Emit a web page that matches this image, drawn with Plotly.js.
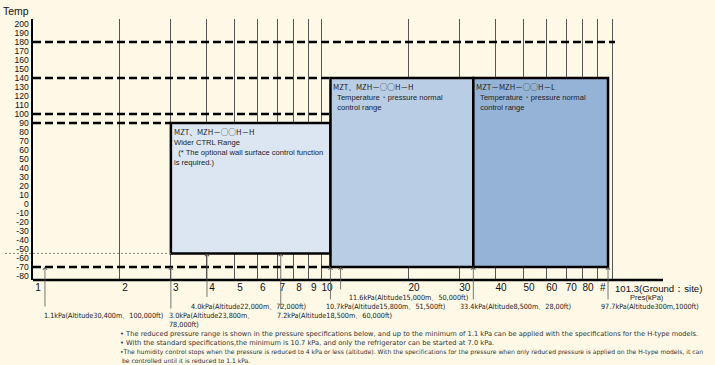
<!DOCTYPE html>
<html>
<head>
<meta charset="utf-8">
<script src="https://cdn.plot.ly/plotly-3.0.1.min.js"></script>
<style>html,body{margin:0;padding:0;background:#fef8e6;}</style>
</head>
<body>
<div id="chart" style="width:715px;height:365px;"></div>
<script>
// ---- data ----
const pressureTicks = [1,2,3,4,5,6,7,8,9,10,20,30,40,50,60,70,80,90,101.3];
const pressureTickLabels = ['1','2','3','4','5','6','7','8','9','10','20','30','40','50','60','70','80','#',''];
const groundLabel = '101.3(Ground：site)';
const tempTicks = [200,190,180,170,160,150,140,130,120,110,100,90,80,70,60,50,40,30,20,10,0,-10,-20,-30,-40,-50,-60,-70,-80];

const boxTitles = ['MZT、MZH－○○H－H', 'MZT、MZH－○○H－H', 'MZT－MZH－○○H－L'];
const boxBodies = ['Wider CTRL Range<br>  (* The optional wall surface control function<br>is required.)',
                   '  Temperature・pressure normal<br>  control range',
                   '  Temperature・pressure normal<br>  control range'];
const boxPMin = [3, 10.7, 33.4];
const boxPMax = [10.7, 33.4, 97.7];
const boxTMin = [-55, -70, -70];
const boxTMax = [90, 140, 140];
const boxColors = ['#dce6f2', '#b9cde5', '#95b3d7'];

const limitTemps = [180, 140, 100, 90, -70];
const limitPEnd = [null, 10.7, 10.7, 3, 10.7];
const refTemp = -55;
const refPEnd = 3;

const arrowP = [1.1, 3.0, 4.0, 7.2, 10.7, 11.6, 33.4, 97.7];
const arrowT = [-70, -70, -55, -55, -70, -70, -70, -70];
const arrowLabels = ['1.1kPa(Altitude30,400m、100,000ft)',
  '3.0kPa(Altitude23,800m、<br>78,000ft)',
  '4.0kPa(Altitude22,000m、72,000ft)',
  '7.2kPa(Altitude18,500m、60,000ft)',
  '10.7kPa(Altitude15,800m、51,500ft)',
  '11.6kPa(Altitude15,000m、50,000ft)',
  '33.4kPa(Altitude8,500m、28,00ft)',
  '97.7kPa(Altitude300m,1000ft)'];
const notes = ['• The reduced pressure range is shown in the pressure specifications below, and up to the minimum of 1.1 kPa can be applied with the specifications for the H-type models.',
  '• With the standard specifications,the minimum is 10.7 kPa, and only the refrigerator can be started at 7.0 kPa.',
  '•The humidity control stops when the pressure is reduced to 4 kPa or less (altitude). With the specifications for the pressure when only reduced pressure is applied on the H-type models, it can',
  'be controlled until it is reduced to 1.1 kPa.'];

// ---- layout geometry ----
const W = 715, H = 365;
const M = {l: 33, r: 100, t: 19, b: 85};
const PW = W - M.l - M.r, PH = H - M.t - M.b;
const xRange = [0, 2.014];
const yRange = [-84.5, 205.5];
const px = v => (v - M.l) / PW;
const py = v => (H - M.b - v) / PH;

const shapes = [];
for (let i = 0; i < boxPMin.length; i++) {
  shapes.push({type:'rect', xref:'x', yref:'y', x0: boxPMin[i], x1: boxPMax[i], y0: boxTMin[i], y1: boxTMax[i],
    fillcolor: boxColors[i], line:{color:'#000', width:2.5}, layer:'above'});
}
for (let i = 0; i < limitTemps.length; i++) {
  if (limitPEnd[i] === null) {
    shapes.push({type:'line', xref:'paper', yref:'y', x0:0, x1:1, y0:limitTemps[i], y1:limitTemps[i],
      line:{color:'#000', width:2.5, dash:'8px,4px'}, layer:'above'});
  } else {
    shapes.push({type:'line', xref:'x', yref:'y', x0:1, x1:limitPEnd[i], y0:limitTemps[i], y1:limitTemps[i],
      line:{color:'#000', width:2.5, dash:'8px,4px'}, layer:'above'});
  }
}
shapes.push({type:'line', xref:'paper', yref:'y', x0:px(5), x1:Math.log10(refPEnd)/xRange[1], y0:refTemp, y1:refTemp,
  line:{color:'#888', width:1, dash:'2px,2px'}, layer:'above'});
shapes.push({type:'line', xref:'paper', yref:'paper', x0:0, x1:px(663), y0:0, y1:0,
  line:{color:'#000', width:2.5}, layer:'above'});

const annotations = [];
annotations.push({xref:'paper', yref:'paper', x:px(1), y:py(3), xanchor:'left', yanchor:'top', showarrow:false,
  text:'Temp', font:{family:'Liberation Sans', size:10.5, color:'#111'}});
for (let i = 0; i < boxPMin.length; i++) {
  annotations.push({xref:'x', yref:'y', x:Math.log10(boxPMin[i]), y:boxTMax[i], xanchor:'left', yanchor:'top',
    xshift:1, yshift:-1, showarrow:false, align:'left',
    text:'<span style="font-family:\'Noto Sans CJK JP\'">' + boxTitles[i] + '</span><br>' + boxBodies[i],
    font:{family:'Liberation Sans', size:7.6, color:'#222'}});
}
annotations.push({xref:'x', yref:'paper', x:Math.log10(101.3), y:py(281), xanchor:'left', yanchor:'top',
  showarrow:false, text:groundLabel, font:{family:'Liberation Sans', size:9.6, color:'#111'}});
annotations.push({xref:'paper', yref:'paper', x:px(647), y:py(291), xanchor:'center', yanchor:'top',
  showarrow:false, text:'Pres(kPa)', font:{family:'Liberation Sans', size:7.5, color:'#222'}});
const tailPx = [41, 43, 45, 57, 34, 24, 34, 34];
for (let i = 0; i < arrowP.length; i++) {
  annotations.push({xref:'x', yref:'y', x:Math.log10(arrowP[i]), y:arrowT[i], ax:0, ay:tailPx[i], text:'',
    showarrow:true, arrowhead:4, arrowsize:1, arrowwidth:0.8, arrowcolor:'#555', standoff:0});
}
const labX = [42, 167, 189, 275, 324, 347, 458, 599];
const labY = [308.5, 308.5, 300, 308.5, 300, 290.5, 300, 300];
for (let i = 0; i < arrowLabels.length; i++) {
  annotations.push({xref:'paper', yref:'paper', x:px(labX[i]), y:py(labY[i]), xanchor:'left', yanchor:'top',
    showarrow:false, align:'left', text:arrowLabels[i], font:{family:'DejaVu Sans Condensed, DejaVu Sans', size:7.2, color:'#222'}});
}
const noteY = [328, 337, 346, 355];
const noteX = [118, 118, 118, 120];
const noteSize = [6.7, 6.7, 6.05, 6.05];
for (let i = 0; i < notes.length; i++) {
  annotations.push({xref:'paper', yref:'paper', x:px(noteX[i]), y:py(noteY[i]), xanchor:'left', yanchor:'top',
    showarrow:false, align:'left', text:notes[i], font:{family:'DejaVu Sans', size:noteSize[i], color:'#333'}});
}

const layout = {
  width: W, height: H,
  margin: M,
  paper_bgcolor: '#fef8e6', plot_bgcolor: '#fef8e6',
  showlegend: false,
  xaxis: {type:'log', range: xRange, tickvals: pressureTicks, ticktext: pressureTickLabels,
    showgrid:true, gridcolor:'#555', gridwidth:1, showline:false, zeroline:false, ticks:'',
    ticklabelshift:5, tickfont:{family:'Liberation Sans', size:10, color:'#111'}, fixedrange:true},
  yaxis: {range: yRange, tickvals: tempTicks, ticktext: tempTicks.map(String),
    showgrid:false, zeroline:false, showline:true, linecolor:'#000', linewidth:2.5, ticks:'',
    tickfont:{family:'Liberation Sans Narrow, Liberation Sans', size:8.6, color:'#111'}, fixedrange:true},
  shapes: shapes,
  annotations: annotations
};

Plotly.newPlot('chart', [{x:[1, 100], y:[0, 0], mode:'markers', marker:{opacity:0}, hoverinfo:'skip'}], layout,
  {displayModeBar:false, staticPlot:true});
</script>
</body>
</html>
